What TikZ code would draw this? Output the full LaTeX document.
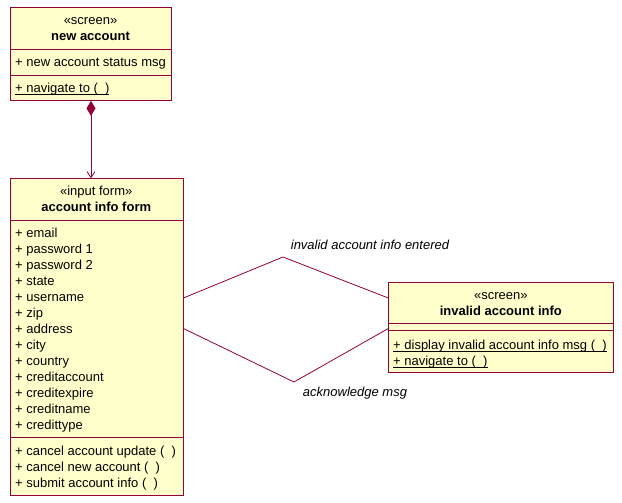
\documentclass[tikz,border=0pt]{standalone}
\usepackage{fontspec}
\setmainfont{Liberation Sans}
\usetikzlibrary{arrows.meta}
\definecolor{umlline}{RGB}{150,0,56}
\definecolor{umlfill}{RGB}{255,255,204}
\newcommand\myul[1]{\setbox0\hbox{#1}\rlap{\rule[-1.8pt]{\wd0}{0.75pt}}\box0}
\tikzset{
  umlbox/.style={draw=umlline, fill=umlfill, line width=0.9pt, rectangle, inner sep=0pt, anchor=north west},
  divider/.style={draw=umlline, line width=0.9pt},
  txt/.style={inner sep=0pt, anchor=base west, font=\fontsize{13}{16}\selectfont},
  ctxt/.style={inner sep=0pt, anchor=base, font=\fontsize{13}{16}\selectfont},
  btxt/.style={inner sep=0pt, anchor=base, font=\fontsize{13}{16}\selectfont\bfseries},
  itxt/.style={inner sep=0pt, anchor=center, font=\fontsize{13}{16}\selectfont\itshape},
  assoc/.style={draw=umlline, line width=0.8pt}
}
\begin{document}
\begin{tikzpicture}[x=1pt,y=-1pt]
\useasboundingbox (0,0) rectangle (622,503);
% box 1
\node[umlbox, minimum width=161pt, minimum height=93pt] (na) at (10,7) {};
\draw[divider] (10,49.3) -- (171,49.3);
\draw[divider] (10,75.3) -- (171,75.3);
\node[ctxt] (na-st) at (90.5,24.5) {«screen»};
\node[btxt] (na-t) at (90.5,40.5) {new account};
\node[txt] (na-a1) at (15,67) {+ new account status msg};
\node[txt] (na-o1) at (15,92.5) {\myul{+ navigate to (\ \ )}};
% box 2
\node[umlbox, minimum width=172.5pt, minimum height=316.7pt] (nb) at (10,178.3) {};
\draw[divider] (10,220.7) -- (182.5,220.7);
\draw[divider] (10,437.7) -- (182.5,437.7);
\node[ctxt] (nb-st) at (96.25,195.5) {«input form»};
\node[btxt] (nb-t) at (96.25,211.5) {account info form};
\foreach \t [count=\i from 0] in {email,password 1,password 2,state,username,zip,address,city,country,creditaccount,creditexpire,creditname,credittype}
  \node[txt] (nb-a\i) at (15,237.5+16*\i) {+ \t};
\node[txt] (nb-o1) at (15,455.5) {+ cancel account update (\ \ )};
\node[txt] (nb-o2) at (15,471.5) {+ cancel new account (\ \ )};
\node[txt] (nb-o3) at (15,487.5) {+ submit account info (\ \ )};
% box 3
\node[umlbox, minimum width=225pt, minimum height=90.6pt] (nc) at (388.3,281.7) {};
\draw[divider] (388.3,323.3) -- (613.3,323.3);
\draw[divider] (388.3,330.7) -- (613.3,330.7);
\node[ctxt] (nc-st) at (500.8,299.5) {«screen»};
\node[btxt] (nc-t) at (500.8,315) {invalid account info};
\node[txt] (nc-o1) at (393,349.5) {\myul{+ display invalid account info msg (\ \ )}};
\node[txt] (nc-o2) at (393,365.5) {\myul{+ navigate to (\ \ )}};
% composition
\coordinate (cx) at (91,0);
\draw[assoc, {Diamond[length=15pt,width=9pt,fill=umlline]}-{Straight Barb[length=6pt,width=8pt]}]
  (na.south -| cx) -- (nb.north -| cx);
% associations
\coordinate (l1) at (0,298);
\coordinate (l2) at (0,328.5);
\coordinate (b1) at (283,257);
\coordinate (b2) at (294,382);
\draw[assoc] (nb.east |- l1) -- (b1) -- (nc.west |- l1);
\draw[assoc] (nb.east |- l2) -- (b2) -- (nc.west |- l2);
\node[itxt] (lab1) at (370,245) {invalid account info entered};
\node[itxt] (lab2) at (355,393) {acknowledge msg};
\end{tikzpicture}
\end{document}
